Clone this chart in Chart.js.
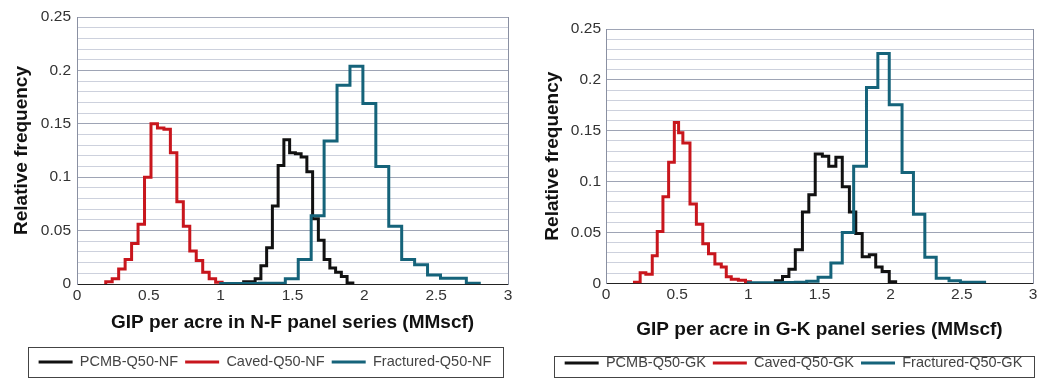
<!DOCTYPE html>
<html lang="en">
<head>
  <meta charset="UTF-8">
  <script src="https://cdn.jsdelivr.net/npm/chart.js"></script>
  <style>
    html, body {
      margin: 0;
      padding: 0;
      background-color: #ffffff;
    }
    #wrap {
      position: relative;
      width: 1063px;
      height: 382px;
    }
    canvas {
      position: absolute;
      top: 0;
    }
    #nfChart { left: 0; }
    #gkChart { left: 530px; }
  </style>
</head>
<body>
  <div id="wrap">
    <canvas id="nfChart" width="530" height="382"></canvas>
    <canvas id="gkChart" width="527" height="382"></canvas>
  </div>

  <script>
    // ---- N-F panel series (bin edges + relative frequency per bin) ----
    const pcmbNfEdges = [1.16, 1.20, 1.24, 1.28, 1.32, 1.36, 1.40, 1.44, 1.48, 1.52, 1.56, 1.60, 1.64, 1.68, 1.72, 1.76, 1.80, 1.84, 1.88, 1.92];
    const pcmbNfFreq = [0.002, 0.002, 0.005, 0.017, 0.034, 0.073, 0.111, 0.135, 0.123, 0.122, 0.119, 0.105, 0.061, 0.041, 0.023, 0.015, 0.011, 0.007, 0.001];

    const cavedNfEdges = [0.20, 0.245, 0.29, 0.335, 0.38, 0.425, 0.47, 0.515, 0.56, 0.605, 0.65, 0.695, 0.74, 0.785, 0.83, 0.875, 0.92, 0.965, 1.01];
    const cavedNfFreq = [0.002, 0.005, 0.014, 0.023, 0.038, 0.056, 0.100, 0.150, 0.146, 0.145, 0.123, 0.077, 0.054, 0.031, 0.022, 0.011, 0.005, 0.0016];

    const fracNfEdges = [1.00, 1.09, 1.18, 1.27, 1.36, 1.45, 1.54, 1.63, 1.72, 1.81, 1.90, 1.99, 2.08, 2.17, 2.26, 2.35, 2.44, 2.53, 2.62, 2.71, 2.80];
    const fracNfFreq = [0.0005, 0.0005, 0.0005, 0.0007, 0.0007, 0.005, 0.023, 0.064, 0.134, 0.186, 0.204, 0.169, 0.110, 0.054, 0.023, 0.018, 0.0084, 0.0053, 0.0053, 0.0006];

    // ---- G-K panel series ----
    const pcmbGkEdges = [1.19, 1.24, 1.285, 1.33, 1.38, 1.425, 1.47, 1.52, 1.565, 1.615, 1.66, 1.71, 1.755, 1.80, 1.85, 1.895, 1.94, 1.99, 2.035];
    const pcmbGkFreq = [0.0026, 0.0066, 0.0138, 0.033, 0.070, 0.087, 0.127, 0.125, 0.115, 0.124, 0.095, 0.070, 0.049, 0.026, 0.028, 0.016, 0.0115, 0.0015];

    const cavedGkEdges = [0.20, 0.24, 0.28, 0.325, 0.36, 0.40, 0.44, 0.48, 0.51, 0.54, 0.59, 0.635, 0.68, 0.72, 0.765, 0.81, 0.845, 0.88, 0.93, 0.98, 1.015];
    const cavedGkFreq = [0.001, 0.0104, 0.009, 0.027, 0.051, 0.085, 0.119, 0.158, 0.148, 0.138, 0.078, 0.058, 0.039, 0.029, 0.019, 0.016, 0.0065, 0.004, 0.003, 0.0015];

    const fracGkEdges = [1.00, 1.08, 1.16, 1.25, 1.33, 1.41, 1.49, 1.58, 1.66, 1.74, 1.83, 1.91, 1.99, 2.08, 2.16, 2.24, 2.32, 2.41, 2.49, 2.57, 2.66];
    const fracGkFreq = [0.0005, 0.0005, 0.0005, 0.0007, 0.001, 0.002, 0.006, 0.020, 0.050, 0.115, 0.1925, 0.226, 0.1755, 0.109, 0.068, 0.0256, 0.005, 0.0026, 0.001, 0.001];

    // ---- axis ticks ----
    const xTickValues = [0, 0.5, 1, 1.5, 2, 2.5, 3];
    const yTickLabels = [0, 0.05, 0.1, 0.15, 0.2, 0.25];

    const fontFamily = "'Liberation Sans', Arial, Helvetica, sans-serif";
    const colors = { pcmb: '#111111', caved: '#c8161d', fractured: '#15637a' };
    const minorGrid = '#cdd1dd';
    const majorGrid = '#9ea4b5';
    const frameGray = '#8a90a2';

    const isLabelTick = v => yTickLabels.some(t => Math.abs(t - v) < 1e-6);

    // histogram outline: rise at first edge, step across each bin, drop at last edge
    const histPoints = (edges, freqs) => {
      const pts = [{ x: edges[0], y: 0 }];
      freqs.forEach((f, i) => pts.push({ x: edges[i], y: f }));
      pts.push({ x: edges[edges.length - 1], y: 0 });
      return pts;
    };

    const histDataset = (label, edges, freqs, color, order) => ({
      label: label,
      data: histPoints(edges, freqs),
      stepped: 'before',
      borderColor: color,
      backgroundColor: color,
      borderWidth: 3,
      borderJoinStyle: 'miter',
      pointRadius: 0,
      pointBorderWidth: 3,
      pointBorderColor: color,
      fill: false,
      order: order
    });

    // box around the legend
    const legendFrame = {
      id: 'legendFrame',
      afterDraw(chart, args, opts) {
        const boxes = chart.legend.legendHitBoxes;
        if (!boxes || !boxes.length) return;
        const left = Math.min(...boxes.map(b => b.left)) - 11;
        const right = Math.max(...boxes.map(b => b.left + b.width)) + 11;
        const ctx = chart.ctx;
        ctx.save();
        ctx.strokeStyle = '#444444';
        ctx.lineWidth = 1;
        ctx.strokeRect(Math.round(left) + 0.5, opts.top + 0.5, Math.round(right - left), opts.bottom - opts.top);
        ctx.restore();
      }
    };

    const makeChart = (canvasId, datasets, xTitle, lay) => {
      const ctx = document.getElementById(canvasId).getContext('2d');
      return new Chart(ctx, {
        type: 'line',
        data: { datasets: datasets },
        options: {
          responsive: false,
          animation: false,
          devicePixelRatio: 1,
          events: [],
          layout: { padding: { top: lay.top, bottom: lay.bottom, left: 0, right: 0 } },
          scales: {
            x: {
              type: 'linear',
              min: 0,
              max: 3,
              afterBuildTicks: s => { s.ticks = xTickValues.map(v => ({ value: v })); },
              afterFit: s => { s.height = lay.xAxisH; },
              grid: { display: false, drawTicks: false },
              border: { color: '#222222', width: 1 },
              ticks: {
                padding: 2,
                autoSkip: false,
                maxRotation: 0,
                color: '#333333',
                font: { family: fontFamily, size: 15.5 },
                callback: v => String(v)
              },
              title: {
                display: true,
                text: xTitle,
                color: '#111111',
                font: { family: fontFamily, size: 19, weight: 'bold' },
                padding: { top: 0, bottom: lay.xTitlePad }
              }
            },
            y: {
              type: 'linear',
              min: 0,
              max: 0.25,
              afterFit: s => { s.width = lay.yAxisW; },
              border: { color: frameGray, width: 1 },
              grid: {
                drawTicks: false,
                lineWidth: 1,
                color: c => (c.tick && isLabelTick(c.tick.value)) ? majorGrid : minorGrid
              },
              ticks: {
                stepSize: 0.01,
                autoSkip: false,
                padding: lay.yTickPad,
                color: '#333333',
                font: { family: fontFamily, size: 15.5 },
                callback: v => isLabelTick(v) ? String(Number(v.toFixed(2))) : ''
              },
              title: {
                display: true,
                text: 'Relative frequency',
                color: '#111111',
                font: { family: fontFamily, size: 19, weight: 'bold' },
                padding: { top: lay.yTitlePad, bottom: 0 }
              }
            },
            // empty right axis: gives the right margin and the right frame line
            yRight: {
              type: 'linear',
              position: 'right',
              min: 0,
              max: 1,
              afterFit: s => { s.width = lay.rightW; },
              grid: { display: false, drawTicks: false },
              ticks: { display: false },
              border: { color: frameGray, width: 1 }
            }
          },
          plugins: {
            tooltip: { enabled: false },
            legend: {
              position: 'bottom',
              labels: {
                usePointStyle: true,
                pointStyle: 'line',
                pointStyleWidth: 34,
                padding: 7,
                color: '#444444',
                font: { family: fontFamily, size: 14.5 },
                sort: (a, b) => a.datasetIndex - b.datasetIndex
              }
            },
            legendFrame: { top: lay.frameTop, bottom: lay.frameBottom }
          }
        },
        plugins: [legendFrame]
      });
    };

    makeChart('nfChart', [
      histDataset('PCMB-Q50-NF', pcmbNfEdges, pcmbNfFreq, colors.pcmb, 2),
      histDataset('Caved-Q50-NF', cavedNfEdges, cavedNfFreq, colors.caved, 1),
      histDataset('Fractured-Q50-NF', fracNfEdges, fracNfFreq, colors.fractured, 0)
    ], 'GIP per acre in N-F panel series (MMscf)', {
      top: 17, bottom: 2.75, yAxisW: 77, rightW: 22, xAxisH: 63.75,
      xTitlePad: 13.35, yTitlePad: 10.6, yTickPad: 6, frameTop: 347, frameBottom: 377
    });

    makeChart('gkChart', [
      histDataset('PCMB-Q50-GK', pcmbGkEdges, pcmbGkFreq, colors.pcmb, 2),
      histDataset('Caved-Q50-GK', cavedGkEdges, cavedGkFreq, colors.caved, 1),
      histDataset('Fractured-Q50-GK', fracGkEdges, fracGkFreq, colors.fractured, 0)
    ], 'GIP per acre in G-K panel series (MMscf)', {
      top: 29, bottom: 1.75, yAxisW: 76, rightW: 24, xAxisH: 65.45,
      xTitlePad: 7.35, yTitlePad: 11.1, yTickPad: 5, frameTop: 356, frameBottom: 377
    });
  </script>
</body>
</html>
